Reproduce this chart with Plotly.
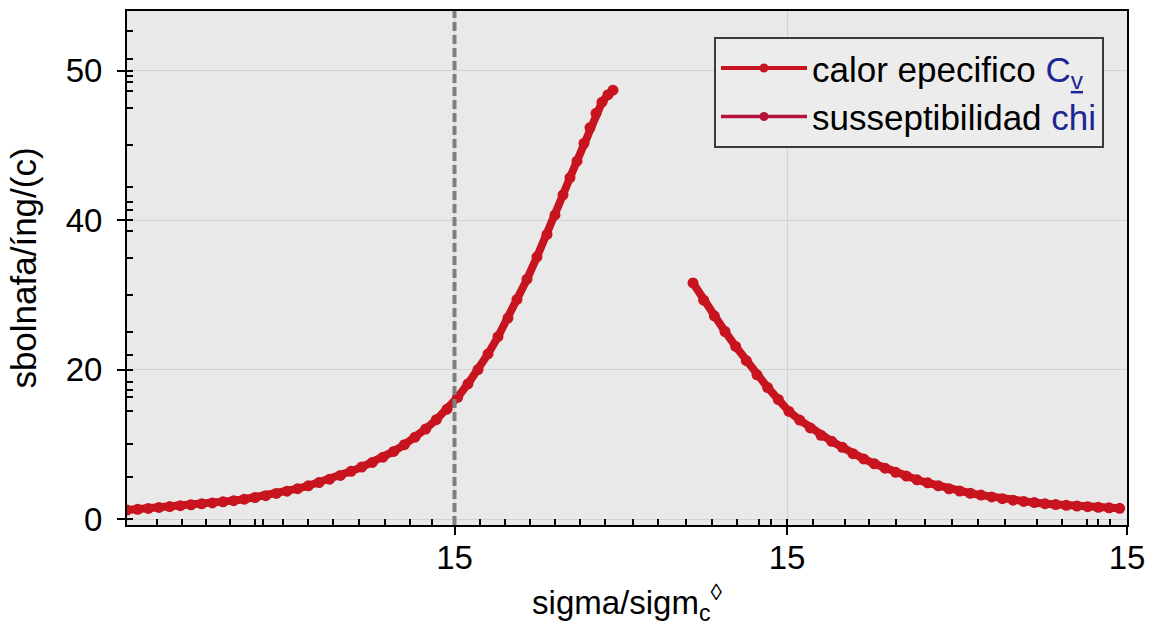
import plotly.graph_objects as go

# ---- data ----
cv_x = [0.000, 0.032, 0.064, 0.096, 0.128, 0.160, 0.192, 0.224, 0.256, 0.288,
        0.320, 0.352, 0.384, 0.416, 0.448, 0.480, 0.512, 0.544, 0.576, 0.608,
        0.640, 0.672, 0.704, 0.736, 0.768, 0.800, 0.832, 0.864, 0.896, 0.928,
        0.960, 0.992, 1.023, 1.053, 1.083, 1.113, 1.143, 1.170, 1.200, 1.230,
        1.260, 1.284, 1.308, 1.329, 1.350, 1.371, 1.389, 1.407, 1.425, 1.443, 1.458]
cv_y = [1.20, 1.30, 1.42, 1.55, 1.66, 1.78, 1.91, 2.04, 2.16, 2.30,
        2.46, 2.65, 2.88, 3.13, 3.42, 3.73, 4.06, 4.45, 4.88, 5.34,
        5.84, 6.38, 6.95, 7.58, 8.28, 9.05, 9.95, 10.95, 12.05, 13.30,
        14.70, 16.30, 18.10, 20.00, 22.10, 24.40, 26.90, 29.40, 32.10, 35.10,
        38.10, 40.70, 43.40, 45.70, 47.90, 50.30, 52.40, 54.30, 55.80, 56.80, 57.40]

chi_x = [1.698, 1.730, 1.762, 1.794, 1.826, 1.858, 1.890, 1.922, 1.954, 1.986,
         2.018, 2.050, 2.082, 2.114, 2.146, 2.178, 2.210, 2.242, 2.274, 2.306,
         2.338, 2.370, 2.402, 2.434, 2.466, 2.498, 2.530, 2.562, 2.594, 2.626,
         2.658, 2.690, 2.722, 2.754, 2.786, 2.818, 2.850, 2.882, 2.914, 2.946, 2.978]
chi_y = [31.6, 29.3, 27.2, 25.1, 23.1, 21.2, 19.3, 17.6, 16.0, 14.4,
         13.25, 12.2, 11.2, 10.4, 9.6, 8.75, 8.05, 7.4, 6.8, 6.25,
         5.75, 5.25, 4.85, 4.45, 4.05, 3.75, 3.45, 3.2, 2.95, 2.72,
         2.52, 2.35, 2.2, 2.05, 1.93, 1.83, 1.73, 1.65, 1.57, 1.5, 1.44]

x_tickvals = [0.9825, 1.98, 3.0]
x_ticktext = ["15", "15", "15"]
y_tickvals = [0, 20, 40, 60]
y_ticktext = ["0", "20", "40", "50"]

x_minor = [0.09, 0.165, 0.237, 0.309, 0.384, 0.408, 0.468, 0.543, 0.618, 0.696,
           0.774, 0.849, 0.915, 0.9825, 1.059, 1.134, 1.209, 1.284, 1.359, 1.434,
           1.518, 1.593, 1.677, 1.755, 1.830, 1.896, 1.932, 1.98, 2.058, 2.154,
           2.226, 2.307, 2.394, 2.475, 2.553, 2.634, 2.730, 2.805, 2.880, 2.913, 2.949]
y_minor = [0, 5.6, 10, 14.5, 16.3, 17.3, 18.4, 20, 21.9, 25, 30, 35, 38.5, 40,
           41.3, 42.5, 44.5, 50, 55, 57.3, 58.5, 59.3, 60, 61.6, 65.3]

critical_x = 0.9825

RED = "#c8141f"
RED2 = "#b4123c"
BLUE = "#1c2594"
FONT = "Liberation Sans, Arial, sans-serif"

fig = go.Figure()
fig.add_trace(go.Scatter(
    x=cv_x, y=cv_y, mode="lines+markers", showlegend=False,
    line=dict(color=RED, width=8), marker=dict(color=RED, size=11)))
fig.add_trace(go.Scatter(
    x=chi_x, y=chi_y, mode="lines+markers", showlegend=False,
    line=dict(color=RED, width=8), marker=dict(color=RED, size=11)))
# legend entries
fig.add_trace(go.Scatter(
    x=[None], y=[None], mode="lines+markers",
    name="calor epecifico <span style='color:%s'>C<sub><u>v</u></sub></span>" % BLUE,
    line=dict(color=RED, width=4), marker=dict(color=RED, size=9),
    legendgroup="a"))
fig.add_trace(go.Scatter(
    x=[None], y=[None], mode="lines+markers",
    name="susseptibilidad <span style='color:%s'>chi</span>" % BLUE,
    line=dict(color=RED2, width=3.5), marker=dict(color=RED2, size=9),
    legendgroup="b"))

fig.add_shape(type="line", x0=critical_x, x1=critical_x, y0=0, y1=1,
              xref="x", yref="paper",
              line=dict(color="#7f7f7f", width=4, dash="9px,4px"))

fig.update_layout(
    width=1157, height=634,
    margin=dict(l=127, r=30, t=9, b=109),
    paper_bgcolor="white", plot_bgcolor="#e9e9e9",
    font=dict(family=FONT, size=33, color="black"),
    showlegend=True,
    legend=dict(x=0.587, y=0.95, xanchor="left", yanchor="top",
                bgcolor="#ececec", bordercolor="#3a3a3a", borderwidth=2,
                font=dict(size=35, family=FONT), tracegroupgap=0,
                itemwidth=86),
)
fig.update_xaxes(
    range=[0, 3.0], tickmode="array", tickvals=x_tickvals, ticktext=x_ticktext,
    ticks="outside", ticklen=8, tickwidth=2, tickcolor="black",
    ticklabelstandoff=-6,
    showline=True, linecolor="black", linewidth=2, mirror=True,
    showgrid=True, gridcolor="#d2d2d2", gridwidth=1, zeroline=False,
    tickfont=dict(size=33),
    minor=dict(tickmode="array", tickvals=x_minor, ticks="inside", ticklen=6,
               tickwidth=1.5, tickcolor="black", showgrid=False),
    title=dict(text="sigma/sigm<sub>c</sub><sup>◊</sup>", font=dict(size=33), standoff=16),
)
fig.update_yaxes(
    range=[-0.8, 68], tickmode="array", tickvals=y_tickvals, ticktext=y_ticktext,
    ticks="outside", ticklen=8, tickwidth=2, tickcolor="black",
    ticklabelstandoff=8,
    showline=True, linecolor="black", linewidth=2, mirror=True,
    showgrid=True, gridcolor="#d2d2d2", gridwidth=1, zeroline=False,
    tickfont=dict(size=33),
    minor=dict(tickmode="array", tickvals=y_minor, ticks="inside", ticklen=6,
               tickwidth=1.5, tickcolor="black", showgrid=False),
    title=dict(text="sbolnafa/íng/(c)", font=dict(size=35), standoff=18),
)

fig.write_html("out.html")
